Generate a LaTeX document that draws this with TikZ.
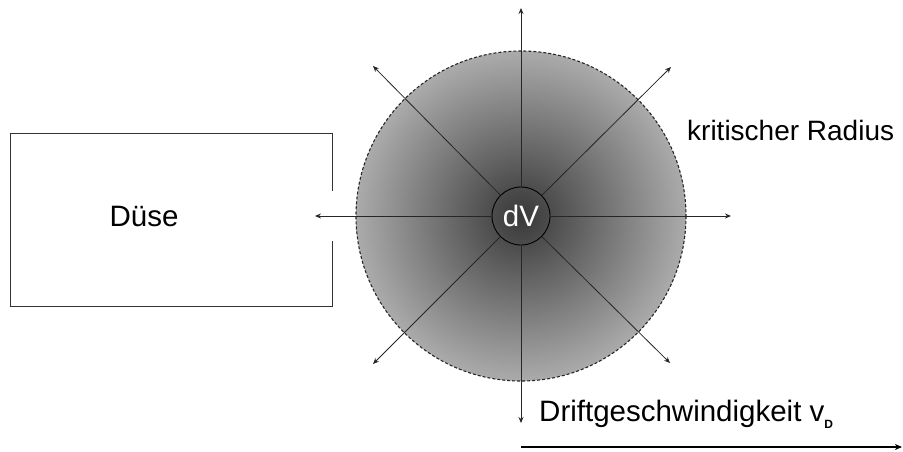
\documentclass[tikz,border=0pt]{standalone}
\usepackage{fontspec}
\setmainfont{Liberation Sans}
\usetikzlibrary{arrows.meta}
\begin{document}
\begin{tikzpicture}[x=1pt,y=-1pt,
  lbl/.style={font=\fontsize{29.5}{34}\selectfont, inner sep=0pt},
  ray/.style={-{Stealth[length=6pt,width=5pt,inset=2pt]}, line width=0.8pt, black!85},
  boxline/.style={line width=1pt, black!80}]
\useasboundingbox (0,0) rectangle (903,452);
% critical radius sphere
\shade[inner color=black!78, outer color=black!33] (521,216) circle (165);
\draw[densely dashed, black!85, line width=1.1pt] (521,216) circle (165);
% small volume element
\node[circle, draw=black, line width=0.9pt, minimum size=58pt, inner sep=0pt,
      text=white, font=\fontsize{29.5}{34}\selectfont] (dV) at (521,216) {dV};
% nozzle box
\coordinate (bA) at (332,191);
\coordinate (bB) at (332,133);
\coordinate (bC) at (10,133);
\coordinate (bD) at (10,306);
\coordinate (bE) at (332,306);
\coordinate (bF) at (332,241);
\draw[boxline] (bA) -- (bB) -- (bC) -- (bD) -- (bE) -- (bF);
\node[lbl] (duese) at (144,216) {Düse};
% rays
\coordinate (tN) at (521,8);
\coordinate (tS) at (521,423);
\coordinate (tW) at (315,216);
\coordinate (tE) at (731,216);
\coordinate (tNE) at (671,67);
\coordinate (tNW) at (373,66);
\coordinate (tSW) at (373,364);
\coordinate (tSE) at (670,363);
\foreach \t in {tN,tS,tW,tE,tNE,tNW,tSW,tSE}
  \draw[ray] (dV) -- (\t);
% labels
\node[lbl, anchor=west, font=\fontsize{28}{33}\selectfont] (krit) at (687,130) {kritischer Radius};
\node[lbl, anchor=west] (drift) at (539,414) {Driftgeschwindigkeit v\raisebox{-7pt}{\fontsize{12}{12}\selectfont\bfseries D}};
% drift arrow
\coordinate (d0) at (521,447);
\coordinate (d1) at (902,447);
\draw[-{Stealth[length=7pt,width=6pt,inset=2pt]}, line width=1.8pt] (d0) -- (d1);
\end{tikzpicture}
\end{document}
